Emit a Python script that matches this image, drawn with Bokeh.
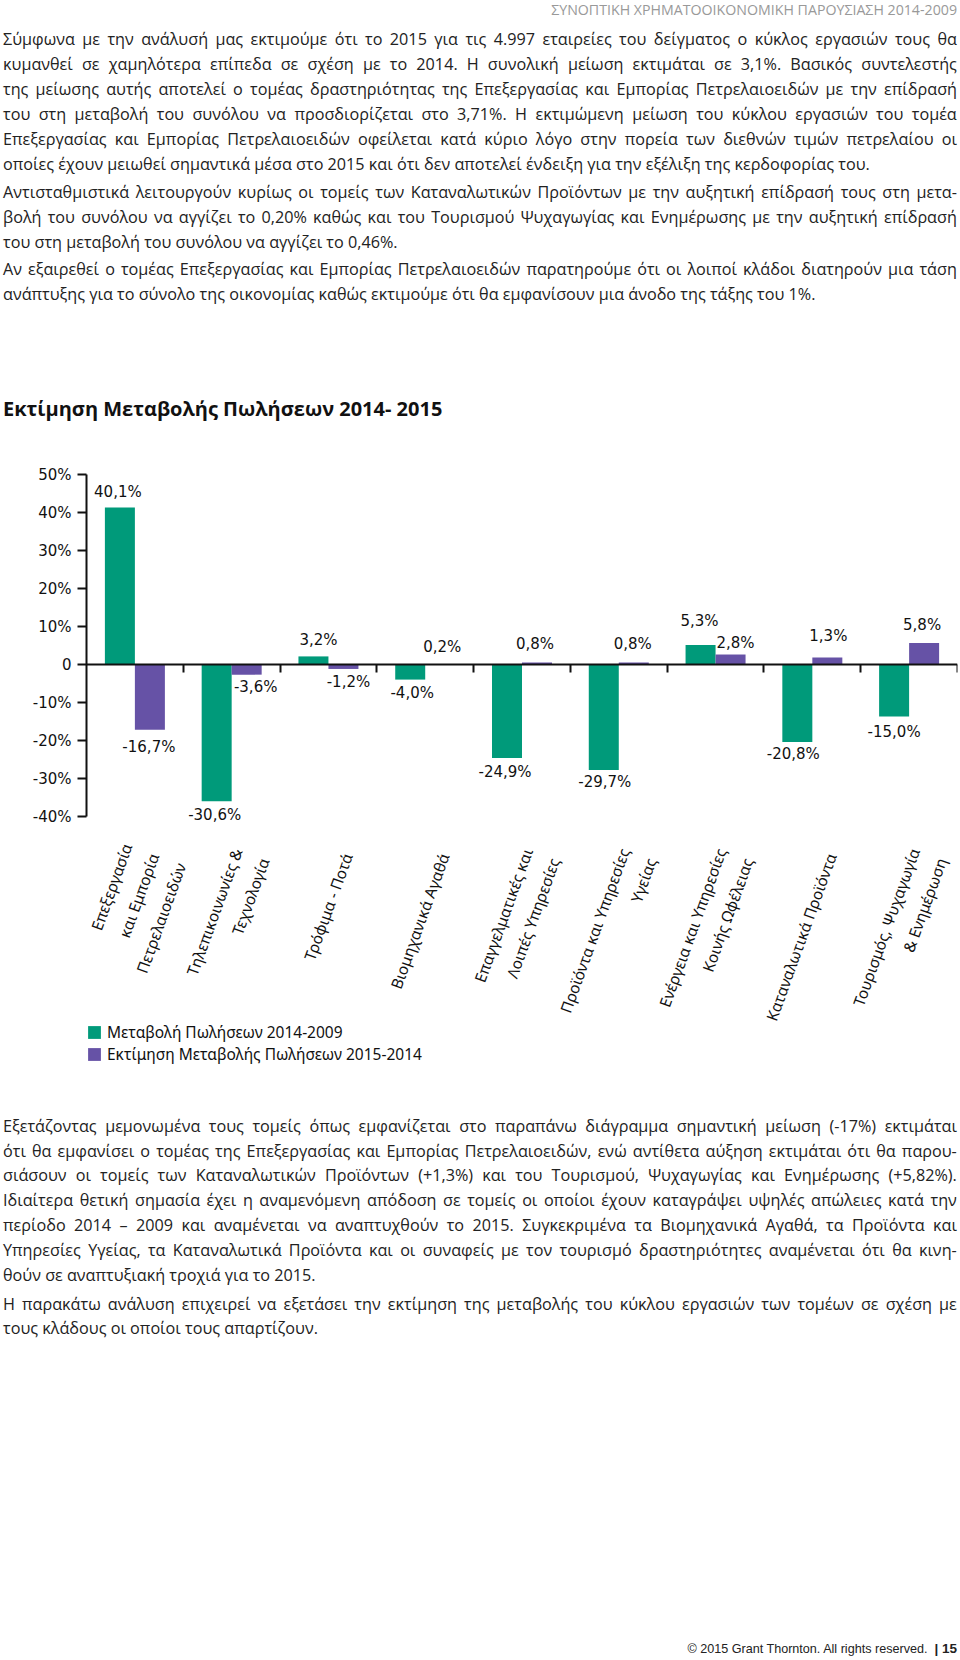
import numpy as np
from bokeh.plotting import figure
from bokeh.models import (ColumnDataSource, FixedTicker, LinearAxis, Legend,
                          LegendItem, Div, Range1d)
from bokeh.layouts import column
from bokeh.embed import file_html
from bokeh.resources import INLINE
from bokeh.core.properties import value

# ---------------- data ----------------
categories = [
    "Επεξεργασία\nκαι Εμπορία\nΠετρελαιοειδών",
    "Τηλεπικοινωνίες &\nΤεχνολογία",
    "Τρόφιμα - Ποτά",
    "Βιομηχανικά Αγαθά",
    "Επαγγελματικές και\nΛοιπές Υπηρεσίες",
    "Προϊόντα και Υπηρεσίες\nΥγείας",
    "Ενέργεια και Υπηρεσίες\nΚοινής Ωφέλειας",
    "Καταναλωτικά Προϊόντα",
    "Τουρισμός, Ψυχαγωγία\n& Ενημέρωση",
]
series_names = ["Μεταβολή Πωλήσεων 2014-2009",
                "Εκτίμηση Μεταβολής Πωλήσεων 2015-2014"]
# bar heights (%)
change_2014_2009 = [41.4, -35.9, 2.2, -3.9, -24.5, -27.7, 5.2, -20.3, -13.6]
estimate_2015_2014 = [-17.1, -2.6, -1.1, 0.2, 0.6, 0.6, 2.7, 1.9, 5.7]
# value labels as printed
labels_2014_2009 = ["40,1%", "-30,6%", "3,2%", "-4,0%", "-24,9%", "-29,7%",
                    "5,3%", "-20,8%", "-15,0%"]
labels_2015_2014 = ["-16,7%", "-3,6%", "-1,2%", "0,2%", "0,8%", "0,8%",
                    "2,8%", "1,3%", "5,8%"]
y_ticks = [-40, -30, -20, -10, 0, 10, 20, 30, 40, 50]
y_tick_labels = ["-40%", "-30%", "-20%", "-10%", "0", "10%", "20%", "30%",
                 "40%", "50%"]

# ---------------- styles ----------------
GREEN = "#009A7A"
PURPLE = "#6652A6"
BAR_W = 0.31
# label nudges in pixels (relative to bar end)
dx_a = [-2, -2, 5, 2, -2, 1, -1, -4, 0]
dy_a = [-15, 14, -16, 13, 14, 12, -24, 12, 16]
dx_b = [-1, 9, 5, 2, -2, -1, 5, 1, -2]
dy_b = [17, 12, 13, -17, -18, -18, -12, -22, -18]

n = len(categories)
xc = np.arange(n) + 0.5
xa = xc - BAR_W / 2
xb = xc + BAR_W / 2

p = figure(width=960, height=641, x_range=Range1d(0, n),
           y_range=Range1d(-107, 59), output_backend="svg",
           toolbar_location=None, x_axis_type=None, y_axis_type=None,
           min_border_left=86, min_border_right=3, min_border_top=10,
           min_border_bottom=0, outline_line_color=None, margin=0)
p.background_fill_color = "white"
p.border_fill_color = "white"

ra = p.vbar(x=xa, top=change_2014_2009, width=BAR_W, bottom=0,
            fill_color=GREEN, line_color=None)
rb = p.vbar(x=xb, top=estimate_2015_2014, width=BAR_W, bottom=0,
            fill_color=PURPLE, line_color=None)

yaxis = LinearAxis(ticker=FixedTicker(ticks=y_ticks),
                   bounds=(y_ticks[0], y_ticks[-1]),
                   major_label_overrides={t: s for t, s in zip(y_ticks, y_tick_labels)},
                   axis_line_width=2, axis_line_color="#111",
                   major_tick_line_width=2, major_tick_line_color="#111",
                   major_tick_in=0, major_tick_out=9,
                   minor_tick_line_color=None, major_label_standoff=6,
                   major_label_text_font="DejaVu Sans",
                   major_label_text_font_size="15px",
                   major_label_text_color="#111")
p.add_layout(yaxis, "left")

# category separators drawn as minor ticks only (no tick labels)
xaxis = LinearAxis(ticker=FixedTicker(ticks=[], minor_ticks=list(range(1, n + 1))),
                   fixed_location=0, axis_line_width=2, axis_line_color="#111",
                   major_tick_line_color=None,
                   minor_tick_line_width=2, minor_tick_line_color="#111",
                   minor_tick_in=0, minor_tick_out=8)
p.add_layout(xaxis, "below")

src_a = ColumnDataSource(dict(x=xa, y=change_2014_2009, t=labels_2014_2009,
                              dx=dx_a, dy=dy_a))
src_b = ColumnDataSource(dict(x=xb, y=estimate_2015_2014, t=labels_2015_2014,
                              dx=dx_b, dy=dy_b))
for src in (src_a, src_b):
    p.text(x="x", y="y", text="t", x_offset="dx", y_offset="dy", source=src,
           text_align="center", text_baseline="middle",
           text_font=value("DejaVu Sans"), text_font_size=value("15px"),
           text_color="#111")

src_c = ColumnDataSource(dict(x=xc, y=[y_ticks[0]] * n, t=categories))
p.text(x="x", y="y", text="t", source=src_c, angle=np.deg2rad(70),
       x_offset=19, y_offset=37, text_align="right", text_baseline="middle",
       text_font=value("Noto Sans"), text_font_size=value("15.5px"),
       text_line_height=1.3, text_color="#111")

legend = Legend(items=[LegendItem(label=series_names[0], renderers=[ra]),
                       LegendItem(label=series_names[1], renderers=[rb])],
                location=(0, 6), glyph_width=16, glyph_height=16,
                label_height=16, spacing=0, padding=0, margin=0,
                label_standoff=5, label_text_font="Noto Sans",
                label_text_font_size="15.5px", label_text_color="#111",
                border_line_color=None, background_fill_alpha=0)
p.add_layout(legend)

# ---------------- page text ----------------
para1 = [
    "Σύμφωνα με την ανάλυσή μας εκτιμούμε ότι το 2015 για τις 4.997 εταιρείες του δείγματος ο κύκλος εργασιών τους θα",
    "κυμανθεί σε χαμηλότερα επίπεδα σε σχέση με το 2014. Η συνολική μείωση εκτιμάται σε 3,1%. Βασικός συντελεστής",
    "της μείωσης αυτής αποτελεί ο τομέας δραστηριότητας της Επεξεργασίας και Εμπορίας Πετρελαιοειδών με την επίδρασή",
    "του στη μεταβολή του συνόλου να προσδιορίζεται στο 3,71%. Η εκτιμώμενη μείωση του κύκλου εργασιών του τομέα",
    "Επεξεργασίας και Εμπορίας Πετρελαιοειδών οφείλεται κατά κύριο λόγο στην πορεία των διεθνών τιμών πετρελαίου οι",
    "οποίες έχουν μειωθεί σημαντικά μέσα στο 2015 και ότι δεν αποτελεί ένδειξη για την εξέλιξη της κερδοφορίας του.",
]
para2 = [
    "Αντισταθμιστικά λειτουργούν κυρίως οι τομείς των Καταναλωτικών Προϊόντων με την αυξητική επίδρασή τους στη μετα-",
    "βολή του συνόλου να αγγίζει το 0,20% καθώς και του Τουρισμού Ψυχαγωγίας και Ενημέρωσης με την αυξητική επίδρασή",
    "του στη μεταβολή του συνόλου να αγγίζει το 0,46%.",
]
para3 = [
    "Αν εξαιρεθεί ο τομέας Επεξεργασίας και Εμπορίας Πετρελαιοειδών παρατηρούμε ότι οι λοιποί κλάδοι διατηρούν μια τάση",
    "ανάπτυξης για το σύνολο της οικονομίας καθώς εκτιμούμε ότι θα εμφανίσουν μια άνοδο της τάξης του 1%.",
]
para4 = [
    "Εξετάζοντας μεμονωμένα τους τομείς όπως εμφανίζεται στο παραπάνω διάγραμμα σημαντική μείωση (-17%) εκτιμάται",
    "ότι θα εμφανίσει ο τομέας της Επεξεργασίας και Εμπορίας Πετρελαιοειδών, ενώ αντίθετα αύξηση εκτιμάται ότι θα παρου-",
    "σιάσουν οι τομείς των Καταναλωτικών Προϊόντων (+1,3%) και του Τουρισμού, Ψυχαγωγίας και Ενημέρωσης (+5,82%).",
    "Ιδιαίτερα θετική σημασία έχει η αναμενόμενη απόδοση σε τομείς οι οποίοι έχουν καταγράψει υψηλές απώλειες κατά την",
    "περίοδο 2014 – 2009 και αναμένεται να αναπτυχθούν το 2015. Συγκεκριμένα τα Βιομηχανικά Αγαθά, τα Προϊόντα και",
    "Υπηρεσίες Υγείας, τα Καταναλωτικά Προϊόντα και οι συναφείς με τον τουρισμό δραστηριότητες αναμένεται ότι θα κινη-",
    "θούν σε αναπτυξιακή τροχιά για το 2015.",
]
para5 = [
    "Η παρακάτω ανάλυση επιχειρεί να εξετάσει την εκτίμηση της μεταβολής του κύκλου εργασιών των τομέων σε σχέση με",
    "τους κλάδους οι οποίοι τους απαρτίζουν.",
]
header = "ΣΥΝΟΠΤΙΚΗ ΧΡΗΜΑΤΟΟΙΚΟΝΟΜΙΚΗ ΠΑΡΟΥΣΙΑΣΗ 2014-2009"
chart_title = "Εκτίμηση Μεταβολής Πωλήσεων 2014- 2015"
footer = "© 2015 Grant Thornton. All rights reserved."
page_no = "| 15"

LH = 24.9
LEFT = 3
TEXT_W = 954


def block(lines, top):
    h = ""
    for i, l in enumerate(lines):
        y = top + i * LH
        base = (f'position:absolute;left:{LEFT}px;top:{y:.2f}px;width:{TEXT_W}px;'
                f'height:{LH}px;line-height:{LH}px;white-space:nowrap;')
        if i == len(lines) - 1:
            h += f'<div style="{base}">{l}</div>'
        else:
            words = "".join(f"<span>{w}</span>" for w in l.split(" "))
            h += (f'<div style="{base}display:flex;justify-content:space-between;">'
                  f'{words}</div>')
    return h


BODY = ("position:relative;font-family:'Open Sans';font-size:16.2px;"
        "color:#222;width:960px;")

top_html = (f'<div style="{BODY}height:430px;">'
            f'<div style="position:absolute;left:{LEFT}px;top:2px;width:{TEXT_W}px;'
            f'text-align:right;font-size:14.2px;line-height:16px;'
            f'color:#999;">{header}</div>'
            + block(para1, 27.3) + block(para2, 179.8) + block(para3, 257.2)
            + f'<div style="position:absolute;left:{LEFT}px;top:397px;'
              f'font-weight:bold;font-size:20px;line-height:24px;color:#111;">{chart_title}</div>'
            + "</div>")
bottom_html = (f'<div style="{BODY}height:585px;">'
               + block(para4, 42.6) + block(para5, 220.5)
               + f'<div style="position:absolute;left:{LEFT}px;top:570px;width:{TEXT_W}px;'
                 f'text-align:right;font-family:\'Liberation Sans\';font-size:12.6px;'
                 f'line-height:15px;color:#222;">{footer}&nbsp; '
                 f'<b style="font-size:13.5px;">{page_no}</b></div>'
               + "</div>")

top_div = Div(text=top_html, width=960, height=430, margin=0)
bottom_div = Div(text=bottom_html, width=960, height=585, margin=0)

layout = column(top_div, p, bottom_div, spacing=0, margin=0)
open("out.html", "w").write(file_html(layout, INLINE))
